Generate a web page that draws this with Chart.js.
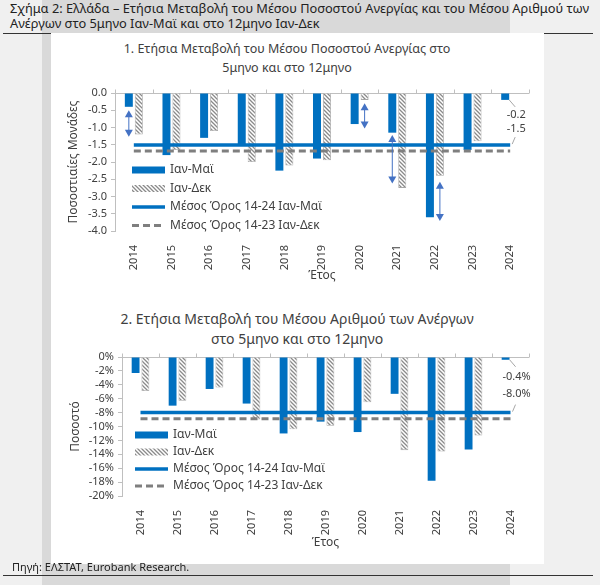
<!DOCTYPE html>
<html>
<head>
<meta charset="utf-8">
<script src="https://cdn.jsdelivr.net/npm/chart.js@4.4.1/dist/chart.umd.min.js"></script>
<style>
  body { margin: 0; width: 600px; height: 585px; background: #f0f0f0; position: relative; overflow: hidden; font-family: "Noto Sans", sans-serif; }
  #band { position: absolute; left: 42px; top: 0; width: 468px; height: 585px; background: #d9d9d9; }
  .rule { position: absolute; left: 3px; width: 590px; height: 0; border-top: 1.5px solid #333; }
  #panel { position: absolute; left: 51px; top: 33px; width: 493px; height: 531px; background: #fff; }
  #head { position: absolute; left: 10px; top: 1px; font-size: 12.8px; line-height: 15px; color: #222; white-space: nowrap; }
  #source { position: absolute; left: 12px; top: 560px; font-size: 11px; line-height: 14px; color: #222; }
  .ctitle { position: absolute; text-align: center; color: #404040; white-space: nowrap; }
  canvas { position: absolute; left: 51px; }
</style>
</head>
<body>
<div id="band"></div>
<div class="rule" style="top:33px"></div>
<div class="rule" style="top:575px"></div>
<div id="panel"></div>
<div id="head">Σχήμα 2: Ελλάδα – Ετήσια Μεταβολή του Μέσου Ποσοστού Ανεργίας και του Μέσου Αριθμού των<br>Ανέργων στο 5μηνο Ιαν-Μαϊ και στο 12μηνο Ιαν-Δεκ</div>
<div class="ctitle" style="left:87px;width:400px;top:39px;font-size:12.5px;line-height:19px">1. Ετήσια Μεταβολή του Μέσου Ποσοστού Ανεργίας στο<br>5μηνο και στο 12μηνο</div>
<div class="ctitle" style="left:97px;width:400px;top:309px;font-size:14px;line-height:20px">2. Ετήσια Μεταβολή του Μέσου Αριθμού των Ανέργων<br>στο 5μηνο και στο 12μηνο</div>
<canvas id="rateChart" width="493" height="265" style="top:33px"></canvas>
<canvas id="countChart" width="493" height="266" style="top:298px"></canvas>
<div id="source">Πηγή: ΕΛΣΤΑΤ, Eurobank Research.</div>

<script>
const years = ['2014', '2015', '2016', '2017', '2018', '2019', '2020', '2021', '2022', '2023', '2024'];
const seriesNames = ['Ιαν-Μαϊ', 'Ιαν-Δεκ', 'Μέσος Όρος 14-24 Ιαν-Μαϊ', 'Μέσος Όρος 14-23 Ιαν-Δεκ'];

// 1. μεταβολή ποσοστού ανεργίας (ποσοστιαίες μονάδες)
const rateJanMay = [-0.4, -1.8, -1.3, -1.5, -2.25, -1.9, -0.9, -1.15, -3.6, -1.65, -0.2];
const rateJanDec = [-1.2, -1.65, -1.1, -2.0, -2.1, -1.95, -0.2, -2.75, -2.4, -1.4, null];
const rateAvgJanMay = [-1.51, -1.51, -1.51, -1.51, -1.51, -1.51, -1.51, -1.51, -1.51, -1.51, -1.51];
const rateAvgJanDec = [-1.68, -1.68, -1.68, -1.68, -1.68, -1.68, -1.68, -1.68, -1.68, -1.68, -1.68];
const rateArrows = [
  { year: '2014', bar: 0, from: -0.5, to: -1.27 },
  { year: '2020', bar: 1, from: -0.3, to: -1.03 },
  { year: '2021', bar: 0, from: -1.22, to: -2.62 },
  { year: '2022', bar: 1, from: -2.57, to: -3.71 }
];

// 2. μεταβολή αριθμού ανέργων (%)
const countJanMay = [-2.3, -7.0, -4.6, -6.7, -11.0, -9.3, -10.8, -5.3, -17.8, -13.3, -0.4];
const countJanDec = [-4.9, -6.3, -4.4, -9.0, -10.4, -9.9, -6.5, -13.4, -13.6, -11.3, null];
const countAvgJanMay = [-8.0, -8.0, -8.0, -8.0, -8.0, -8.0, -8.0, -8.0, -8.0, -8.0, -8.0];
const countAvgJanDec = [-8.9, -8.9, -8.9, -8.9, -8.9, -8.9, -8.9, -8.9, -8.9, -8.9, -8.9];

const blue = '#0070c0';
const grey = '#7f7f7f';
const axisGrey = '#bfbfbf';
const arrowBlue = '#4472c4';
const txt = '#404040';

Chart.defaults.font.family = '"Noto Sans", sans-serif';
Chart.defaults.color = txt;

function hatchPattern() {
  let c = document.createElement('canvas');
  c.width = 4; c.height = 4;
  let g = c.getContext('2d');
  g.fillStyle = '#fff';
  g.fillRect(0, 0, 4, 4);
  g.strokeStyle = '#8a8a8a';
  g.lineWidth = 1.3;
  g.beginPath();
  g.moveTo(0, 0); g.lineTo(4, 4);
  g.moveTo(-1, 3); g.lineTo(1, 5);
  g.moveTo(3, -1); g.lineTo(5, 1);
  g.stroke();
  return g.createPattern(c, 'repeat');
}
const hatch = hatchPattern();

function drawArrow(ctx, x, y1, y2) {
  ctx.strokeStyle = arrowBlue;
  ctx.fillStyle = arrowBlue;
  ctx.lineWidth = 1;
  ctx.beginPath();
  ctx.moveTo(x, y1 + 5); ctx.lineTo(x, y2 - 5);
  ctx.stroke();
  ctx.beginPath();
  ctx.moveTo(x, y1); ctx.lineTo(x - 4, y1 + 7); ctx.lineTo(x + 4, y1 + 7); ctx.closePath();
  ctx.fill();
  ctx.beginPath();
  ctx.moveTo(x, y2); ctx.lineTo(x - 4, y2 - 7); ctx.lineTo(x + 4, y2 - 7); ctx.closePath();
  ctx.fill();
}

const extras = {
  id: 'extras',
  beforeDatasetsDraw(chart) {
    const { ctx, chartArea: a, scales: { x, y } } = chart;
    const y0 = Math.round(y.getPixelForValue(0)) + 0.5;
    ctx.save();
    ctx.strokeStyle = axisGrey;
    ctx.lineWidth = 1;
    ctx.beginPath();
    ctx.moveTo(a.left, y0); ctx.lineTo(a.right, y0);
    for (let k = 0; k <= years.length; k++) {
      const px = Math.round(x.getPixelForValue(k - 0.5)) + 0.5;
      ctx.moveTo(px, y0); ctx.lineTo(px, y0 - 4);
    }
    ctx.stroke();
    ctx.restore();
  },
  afterDatasetsDraw(chart, args, opts) {
    const { ctx, chartArea: a, scales: { y } } = chart;
    ctx.save();
    // βέλη
    (opts.arrows || []).forEach(ar => {
      const el = chart.getDatasetMeta(ar.bar).data[years.indexOf(ar.year)];
      drawArrow(ctx, el.x, y.getPixelForValue(ar.from), y.getPixelForValue(ar.to));
    });
    // ετικέτες τελευταίας τιμής και μέσου όρου
    const last = years.length - 1;
    const bar = chart.getDatasetMeta(0).data[last];
    const lineEnd = chart.getDatasetMeta(2).data[last];
    const barVal = chart.data.datasets[0].data[last];
    const avgVal = chart.data.datasets[2].data[last];
    ctx.strokeStyle = '#a6a6a6';
    ctx.lineWidth = 1;
    ctx.beginPath();
    ctx.moveTo(bar.x + 4, bar.y); ctx.lineTo(bar.x + 10, bar.y + 7);
    ctx.moveTo(lineEnd.x + 2, lineEnd.y - 1); ctx.lineTo(lineEnd.x + 5, lineEnd.y - 8);
    ctx.stroke();
    ctx.fillStyle = txt;
    ctx.font = '11px "Noto Sans"';
    ctx.textAlign = 'center';
    ctx.textBaseline = 'middle';
    ctx.fillText(opts.fmt(barVal), bar.x + 11, bar.y + opts.labelDy[0]);
    ctx.fillText(opts.fmt(avgVal), bar.x + 11, lineEnd.y + opts.labelDy[1]);
    // υπόμνημα
    const L = opts.legend;
    ctx.textAlign = 'left';
    ctx.font = '12px "Noto Sans"';
    chart.data.datasets.forEach((ds, i) => {
      const lx = a.left + L.dx;
      const ly = a.top + L.dy + i * L.gap;
      if (ds.type === 'bar') {
        ctx.fillStyle = ds.backgroundColor;
        ctx.fillRect(lx, ly - 3.5, 33, 7);
      } else {
        ctx.strokeStyle = ds.borderColor;
        ctx.lineWidth = ds.borderWidth;
        ctx.setLineDash(ds.borderDash || []);
        ctx.beginPath();
        ctx.moveTo(lx, ly); ctx.lineTo(lx + 33, ly);
        ctx.stroke();
        ctx.setLineDash([]);
      }
      ctx.fillStyle = txt;
      ctx.fillText(ds.label, lx + 38, ly);
    });
    ctx.restore();
  }
};

function makeChart(id, series, axis, extra) {
  return new Chart(document.getElementById(id), {
    type: 'bar',
    data: {
      labels: years,
      datasets: [
        { type: 'bar', label: seriesNames[0], data: series[0], backgroundColor: blue, order: 2,
          categoryPercentage: 0.53, barPercentage: 0.8 },
        { type: 'bar', label: seriesNames[1], data: series[1], backgroundColor: hatch, order: 2,
          borderColor: '#a6a6a6', borderWidth: 0.8, categoryPercentage: 0.53, barPercentage: 0.8 },
        { type: 'line', label: seriesNames[2], data: series[2], borderColor: blue, borderWidth: 3.5,
          pointRadius: 0, order: 1 },
        { type: 'line', label: seriesNames[3], data: series[3], borderColor: grey, borderWidth: 3,
          borderDash: [7, 4], pointRadius: 0, order: 1 }
      ]
    },
    options: {
      responsive: false,
      animation: false,
      layout: { padding: { top: axis.top, right: 15, left: 0, bottom: 0 } },
      plugins: {
        legend: { display: false },
        tooltip: { enabled: false },
        extras: extra
      },
      scales: {
        x: {
          grid: { display: false },
          border: { display: false },
          ticks: { minRotation: 90, maxRotation: 90, padding: 6, font: { size: 11 }, color: txt },
          title: { display: true, text: 'Έτος', font: { size: 12 }, color: txt, padding: { top: 0, bottom: axis.xTitlePad } },
          afterFit(s) { s.height = axis.xHeight; }
        },
        y: {
          min: axis.min, max: axis.max,
          border: { color: axisGrey },
          grid: { drawOnChartArea: false, tickLength: 4, color: axisGrey },
          ticks: { stepSize: axis.step, autoSkip: false, padding: 4, font: { size: 11 }, color: txt, callback: axis.tick },
          title: { display: true, text: axis.title, font: { size: 12 }, color: txt, padding: { top: axis.yTitlePad, bottom: 0 } },
          afterFit(s) { s.width = axis.yWidth; }
        }
      }
    },
    plugins: [extras]
  });
}

makeChart('rateChart', [rateJanMay, rateJanDec, rateAvgJanMay, rateAvgJanDec], {
  min: -4, max: 0, step: 0.5, tick: v => v.toFixed(1), title: 'Ποσοστιαίες Μονάδες',
  top: 60, yWidth: 64, xHeight: 67, yTitlePad: 15, xTitlePad: 15
}, {
  arrows: rateArrows, fmt: v => v.toFixed(1), labelDy: [15, -16],
  legend: { dx: 17, dy: 77, gap: 18.5 }
});

makeChart('countChart', [countJanMay, countJanDec, countAvgJanMay, countAvgJanDec], {
  min: -20, max: 0, step: 2, tick: v => v + '%', title: 'Ποσοστό',
  top: 59, yWidth: 71, xHeight: 68, yTitlePad: 17, xTitlePad: 14
}, {
  arrows: [], fmt: v => v.toFixed(1) + '%', labelDy: [17, -19],
  legend: { dx: 13, dy: 78, gap: 17 }
});
</script>
</body>
</html>
